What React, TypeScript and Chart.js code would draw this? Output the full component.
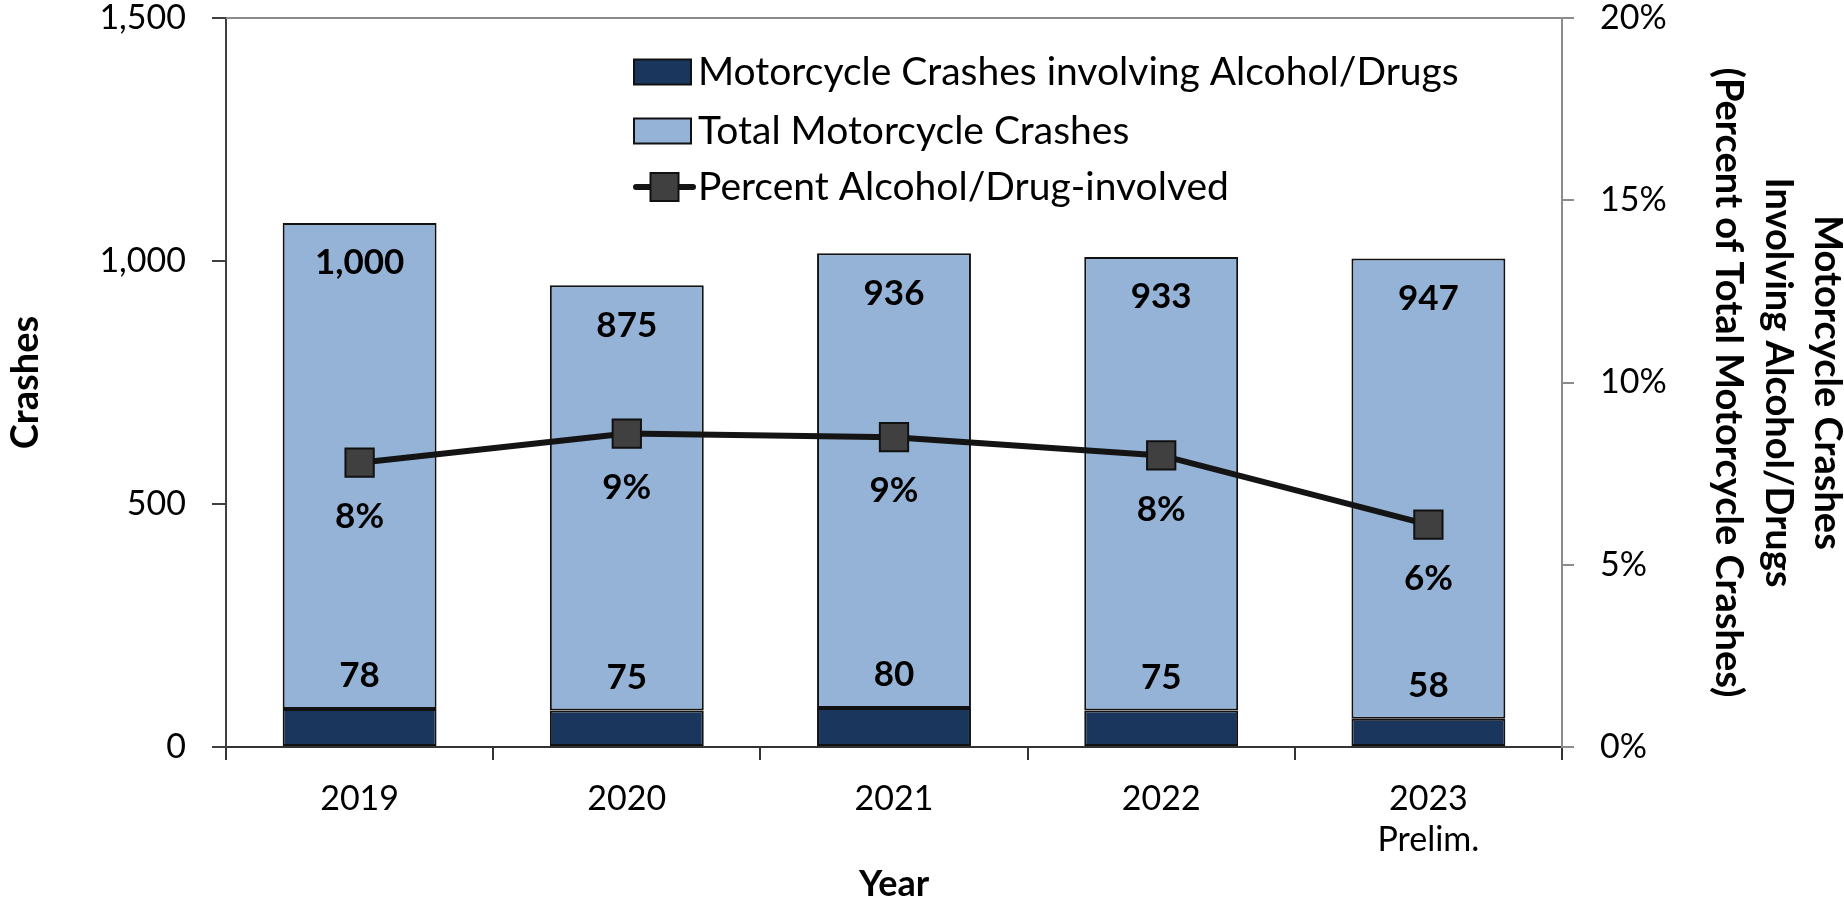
import React, { useEffect, useRef } from 'react';
import { Chart, registerables } from 'chart.js';

Chart.register(...registerables);

// ---- data ----
const years: (string | string[])[] = ['2019', '2020', '2021', '2022', ['2023', 'Prelim.']];
const alcoholDrugCrashes = [78, 75, 80, 75, 58];
const totalCrashes = [1000, 875, 936, 933, 947];
const percentInvolved = [7.8, 8.6, 8.5, 8.0, 6.1];

const seriesNames = [
  'Motorcycle Crashes involving Alcohol/Drugs',
  'Total Motorcycle Crashes',
  'Percent Alcohol/Drug-involved',
];
const leftAxisTitle = 'Crashes';
const bottomAxisTitle = 'Year';
const rightAxisTitle = [
  'Motorcycle Crashes',
  'Involving Alcohol/Drugs',
  '(Percent of Total Motorcycle Crashes)',
];

// ---- styles ----
const FONT = 'Lato, "Open Sans", "Noto Sans", sans-serif';
const DARK = '#1b365d';
const LIGHT = '#95b3d7';
const EDGE = '#111111';
const MARKER = '#404040';
const LINE = '#141414';
const GRAY = '#8c8c8c';

const valueLabels = {
  id: 'valueLabels',
  afterDatasetsDraw(chart: any) {
    const ctx = chart.ctx;
    ctx.save();
    ctx.font = `bold 35px ${FONT}`;
    ctx.fillStyle = '#000';
    ctx.textAlign = 'center';
    ctx.textBaseline = 'middle';
    const m0 = chart.getDatasetMeta(0);
    const m1 = chart.getDatasetMeta(1);
    const m2 = chart.getDatasetMeta(2);
    m1.data.forEach((el: any, i: number) => {
      ctx.fillText(totalCrashes[i].toLocaleString('en-US'), el.x, el.y + 40);
    });
    m0.data.forEach((el: any, i: number) => {
      ctx.fillText(String(alcoholDrugCrashes[i]), el.x, el.y - 33);
    });
    m2.data.forEach((el: any, i: number) => {
      ctx.fillText(Math.round(percentInvolved[i]) + '%', el.x, el.y + 54);
    });
    ctx.restore();
  },
};

const frameLine = {
  id: 'frameLine',
  beforeDatasetsDraw(chart: any) {
    const { ctx, chartArea } = chart;
    ctx.save();
    ctx.strokeStyle = GRAY;
    ctx.lineWidth = 2;
    ctx.beginPath();
    ctx.moveTo(chartArea.left, chartArea.top);
    ctx.lineTo(chartArea.right, chartArea.top);
    ctx.stroke();
    ctx.restore();
  },
};

const insideLegend = {
  id: 'insideLegend',
  afterDraw(chart: any) {
    const { ctx, chartArea } = chart;
    const x0 = chartArea.left + 408;
    const w = 57;
    const h = 25;
    const tx = x0 + w + 7;
    const rows = [chartArea.top + 54, chartArea.top + 113, chartArea.top + 169];
    ctx.save();
    [DARK, LIGHT].forEach((c, i) => {
      ctx.fillStyle = c;
      ctx.fillRect(x0, rows[i] - h / 2, w, h);
      ctx.strokeStyle = EDGE;
      ctx.lineWidth = 2;
      ctx.strokeRect(x0, rows[i] - h / 2, w, h);
    });
    ctx.strokeStyle = LINE;
    ctx.lineWidth = 6;
    ctx.lineCap = 'round';
    ctx.beginPath();
    ctx.moveTo(x0 + 2, rows[2]);
    ctx.lineTo(x0 + w + 2, rows[2]);
    ctx.stroke();
    const s = 28;
    ctx.fillStyle = MARKER;
    ctx.fillRect(x0 + w / 2 - s / 2 + 2, rows[2] - s / 2, s, s);
    ctx.lineWidth = 2;
    ctx.strokeStyle = EDGE;
    ctx.strokeRect(x0 + w / 2 - s / 2 + 2, rows[2] - s / 2, s, s);
    ctx.fillStyle = '#000';
    ctx.font = `39px ${FONT}`;
    ctx.textAlign = 'left';
    ctx.textBaseline = 'middle';
    seriesNames.forEach((t, i) => ctx.fillText(t, tx, rows[i]));
    ctx.restore();
  },
};

export default function App() {
  const ref = useRef<HTMLCanvasElement | null>(null);

  useEffect(() => {
    document.body.style.margin = '0';
    const canvas = ref.current;
    if (!canvas) return;
    const chart = new Chart(canvas, {
      type: 'bar',
      data: {
        labels: years as any,
        datasets: [
          {
            type: 'bar',
            label: seriesNames[0],
            data: alcoholDrugCrashes,
            backgroundColor: DARK,
            borderColor: EDGE,
            borderWidth: 2,
            borderSkipped: false,
            stack: 'crashes',
            yAxisID: 'y',
            order: 2,
            categoryPercentage: 1,
            barPercentage: 0.576,
          },
          {
            type: 'bar',
            label: seriesNames[1],
            data: totalCrashes,
            backgroundColor: LIGHT,
            borderColor: EDGE,
            borderWidth: 2,
            borderSkipped: false,
            stack: 'crashes',
            yAxisID: 'y',
            order: 2,
            categoryPercentage: 1,
            barPercentage: 0.576,
          },
          {
            type: 'line',
            label: seriesNames[2],
            data: percentInvolved,
            yAxisID: 'y1',
            borderColor: LINE,
            borderWidth: 6,
            pointStyle: 'rect',
            pointRadius: 20,
            pointBackgroundColor: MARKER,
            pointBorderColor: EDGE,
            pointBorderWidth: 2,
            tension: 0,
            order: 0,
            clip: false,
          } as any,
        ],
      },
      options: {
        responsive: false,
        animation: false,
        devicePixelRatio: 1,
        layout: { autoPadding: false, padding: { top: 18, left: 0, right: 0, bottom: 0 } },
        plugins: {
          legend: { display: false },
          tooltip: { enabled: false },
        },
        scales: {
          x: {
            stacked: true,
            offset: true,
            grid: {
              offset: true,
              drawOnChartArea: false,
              drawTicks: true,
              tickLength: 13,
              color: '#333333',
              lineWidth: 2,
            },
            border: { display: true, color: '#333333', width: 2 },
            ticks: {
              color: '#000',
              font: { family: FONT, size: 34, lineHeight: 1.2 },
              padding: 19,
              maxRotation: 0,
              autoSkip: false,
            },
            title: {
              display: true,
              text: bottomAxisTitle,
              color: '#000',
              font: { family: FONT, size: 36, weight: 'bold', lineHeight: 1.2 },
              padding: { top: 0, bottom: -1 },
            },
            afterFit: (s: any) => {
              s.height = 158;
              s.paddingLeft = 0;
              s.paddingRight = 0;
            },
          },
          y: {
            stacked: true,
            position: 'left',
            min: 0,
            max: 1500,
            ticks: {
              stepSize: 500,
              color: '#000',
              font: { family: FONT, size: 34, lineHeight: 1 },
              padding: 26,
              callback: (v: any) => Number(v).toLocaleString('en-US'),
            },
            grid: {
              drawOnChartArea: false,
              drawTicks: true,
              tickLength: 14,
              color: '#404040',
              lineWidth: 2,
            },
            border: { display: true, color: '#404040', width: 2 },
            title: {
              display: true,
              text: leftAxisTitle,
              color: '#000',
              font: { family: FONT, size: 38, weight: 'bold', lineHeight: 1.2 },
              padding: { top: 3, bottom: 0 },
            },
            afterFit: (s: any) => {
              s.width = 226;
              s.paddingTop = 0;
              s.paddingBottom = 0;
            },
          },
          y1: {
            position: 'right',
            min: 0,
            max: 20,
            ticks: {
              stepSize: 5,
              color: '#000',
              font: { family: FONT, size: 34, lineHeight: 1 },
              padding: 26,
              callback: (v: any) => v + '%',
            },
            grid: {
              drawOnChartArea: false,
              drawTicks: true,
              tickLength: 12,
              color: GRAY,
              lineWidth: 2,
            },
            border: { display: true, color: GRAY, width: 2 },
            title: {
              display: true,
              text: rightAxisTitle,
              color: '#000',
              font: { family: FONT, size: 38, weight: 'bold', lineHeight: 1.3 },
              padding: { top: -8, bottom: 0 },
            },
            afterFit: (s: any) => {
              s.width = 282;
              s.paddingTop = 0;
              s.paddingBottom = 0;
            },
          },
        },
      } as any,
      plugins: [frameLine, valueLabels, insideLegend],
    });
    return () => chart.destroy();
  }, []);

  return (
    <div style={{ width: 1844, height: 905, background: '#fff' }}>
      <canvas ref={ref} width={1844} height={905} style={{ display: 'block' }} />
    </div>
  );
}
